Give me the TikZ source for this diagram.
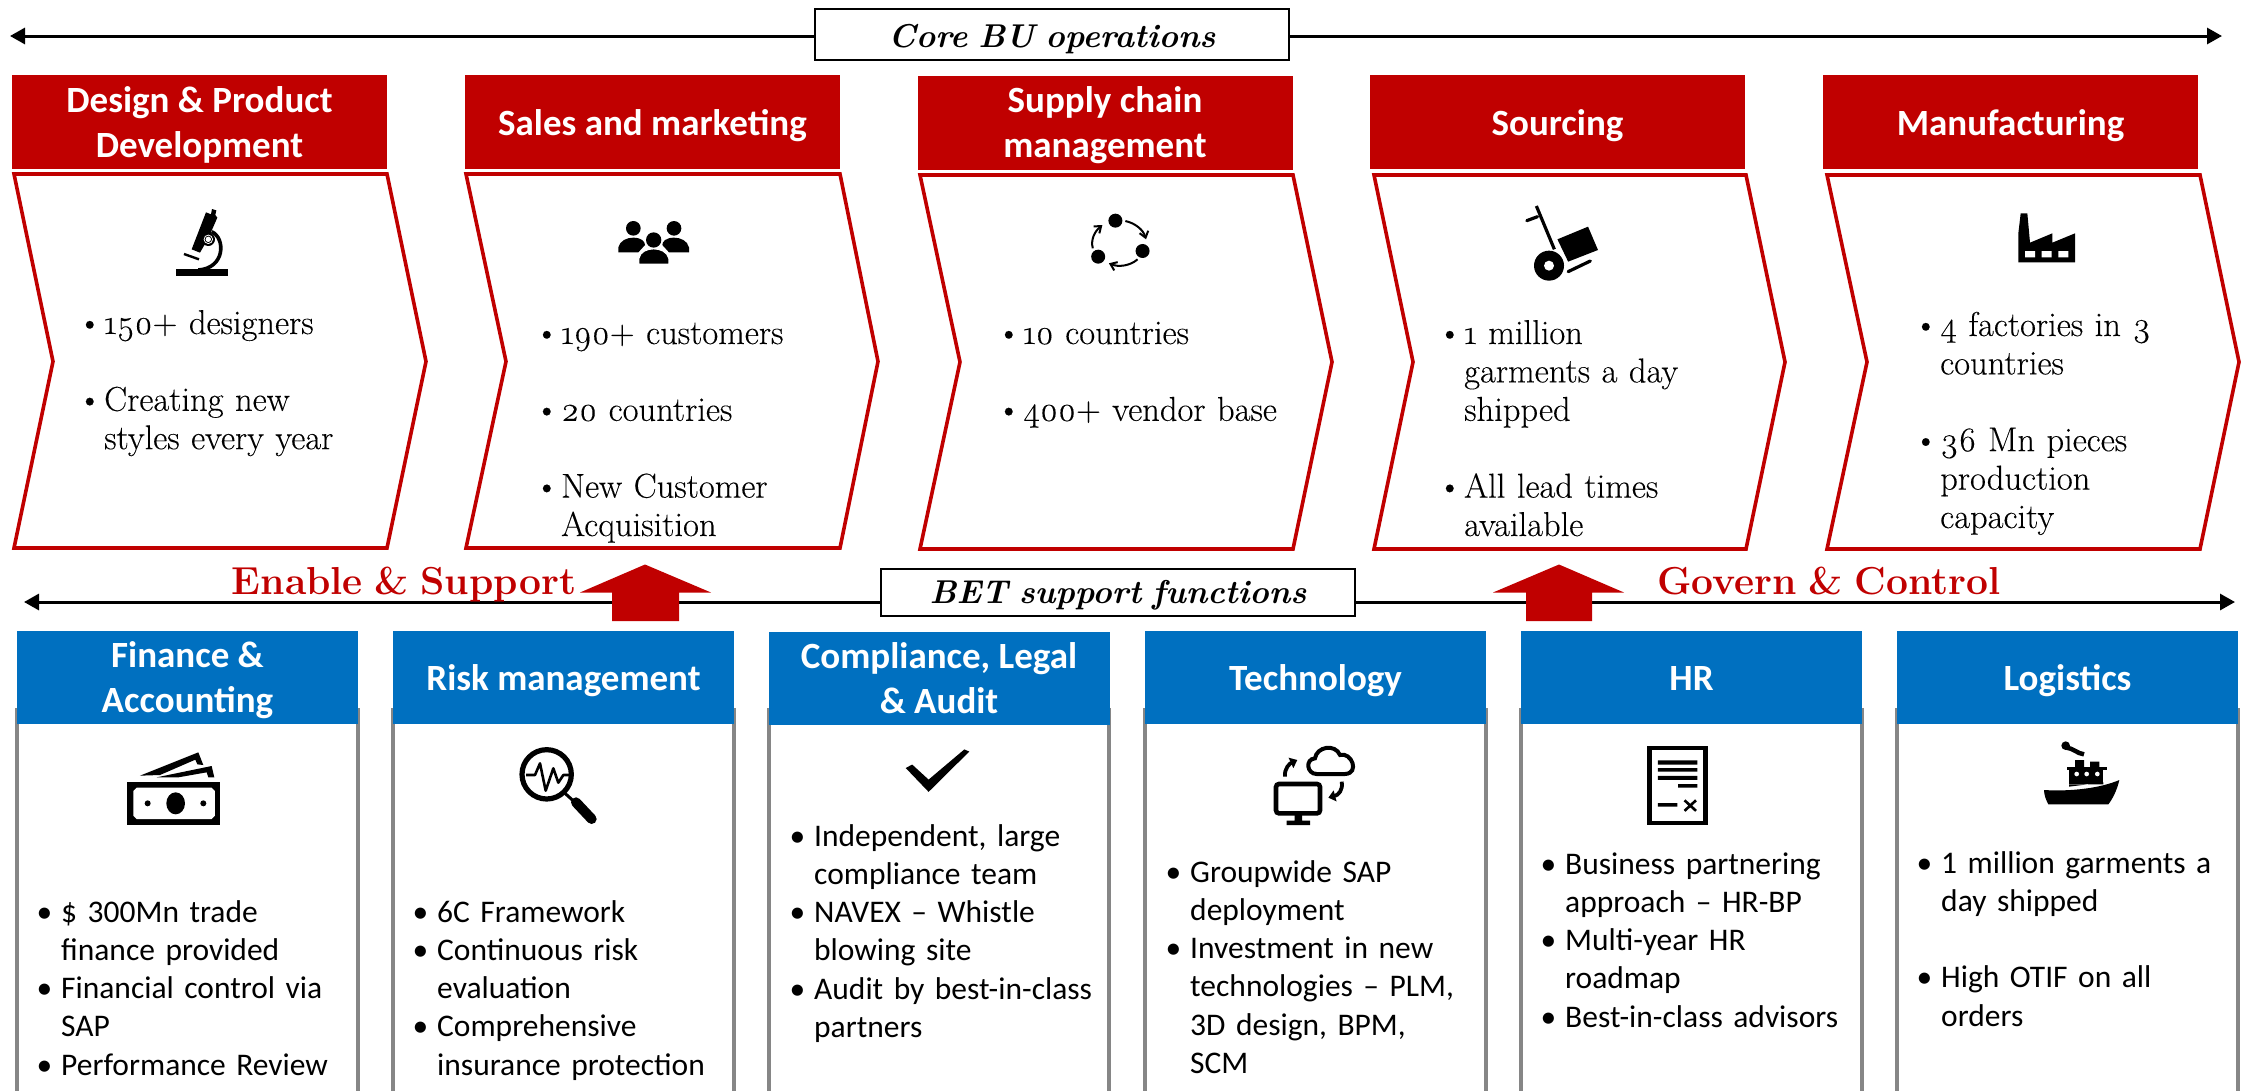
\documentclass[tikz,border=0pt]{standalone}
\usepackage{fontspec}
\setmainfont{Carlito}
\newfontfamily\gfont{Latin Modern Roman}[Numbers=OldStyle,WordSpace=0.8,UprightFeatures={FakeBold=0.2}]
\usetikzlibrary{arrows.meta}
\definecolor{bred}{HTML}{C00000}
\definecolor{bblue}{HTML}{0070C0}
\definecolor{bgrey}{HTML}{868686}
\newcommand\bl[1]{\makebox[0pt][r]{\textbullet\hspace{#1pt}}}
% one line: baseline #1 below the node centre; two lines: first baseline #1 above it
\newcommand\hdone[2]{\raisebox{-#1pt}[0pt][0pt]{#2}}
\newcommand\hdtwo[3]{\raisebox{#1pt}[0pt][0pt]{\begin{tabular}[t]{@{}c@{}}#2\\#3\end{tabular}}}
\tikzset{
  redhead/.style={fill=bred,text=white,minimum width=375pt,minimum height=94pt,inner sep=0pt,
    font=\fontsize{37}{45}\selectfont\bfseries},
  bluehead/.style={fill=bblue,text=white,minimum width=341pt,minimum height=93pt,inner sep=0pt,
    font=\fontsize{37}{45.5}\selectfont\bfseries},
  chev/.style={draw=bred,line width=3.6pt,fill=white,miter limit=10},
  sidebar/.style={draw=bgrey,line width=4pt,fill=white},
  topbody/.style={anchor=base west,inner sep=0pt,align=left,text width=330pt,
    font=\gfont\fontsize{34.5}{38.4}\selectfont},
  lowbody/.style={anchor=base west,inner sep=0pt,align=left,text width=300pt,
    font=\fontsize{31.5}{38.3}\selectfont},
  banner/.style={draw=black,line width=2pt,fill=white,inner sep=0pt,
    font=\gfont\fontsize{33}{38}\selectfont\bfseries\itshape},
  axis/.style={draw=black,line width=3pt,-{Triangle[length=15pt,width=16pt]}},
  slogan/.style={text=bred,inner sep=0pt,anchor=base,font=\gfont\fontsize{39}{44}\selectfont\bfseries},
  blockarrow/.style={fill=bred},
  iconink/.style={fill=black,draw=none}
}
\begin{document}
\begin{tikzpicture}[x=1pt,y=-1pt]
\useasboundingbox (0,0) rectangle (2245,1090);
% top axis
\node[banner,minimum width=474pt,minimum height=51pt] (corebox) at (1052,34.5) {\hdone{13}{Core BU operations}};
\coordinate (coreL) at (10,36);
\coordinate (coreR) at (2222,36);
\draw[axis] (corebox.west |- coreL) -- (coreL);
\draw[axis] (corebox.east |- coreR) -- (coreR);
% chevrons
\draw[chev] (14,174) -- (387,174) -- (426,361.5) -- (387,548) -- (14,548) -- (53,361.5) -- cycle;
\draw[chev] (466,174) -- (840,174) -- (878,361.5) -- (840,548) -- (466,548) -- (506,361.5) -- cycle;
\draw[chev] (920,175) -- (1293,175) -- (1332,362) -- (1293,549) -- (920,549) -- (960,362) -- cycle;
\draw[chev] (1374,175) -- (1746,175) -- (1785,362) -- (1746,549) -- (1374,549) -- (1413,362) -- cycle;
\draw[chev] (1827,175) -- (2200,175) -- (2239,362) -- (2200,549) -- (1827,549) -- (1867,362) -- cycle;
% red heads
\node[redhead] (r1) at (199.5,122) {\hdtwo{10}{Design \& Product}{Development}};
\node[redhead] (r2) at (652.5,122) {\hdone{13.7}{Sales and marketing}};
\node[redhead] (r3) at (1105,122.5) {\hdtwo{10.5}{Supply chain}{management}};
\node[redhead] (r4) at (1557.5,122) {\hdone{13.7}{Sourcing}};
\node[redhead] (r5) at (2010.5,122) {\hdone{13.7}{Manufacturing}};
% top bodies
\node[topbody] (t1) at (104,334) {\bl{2}150+ designers\\[38.4pt]\bl{2}Creating new\\styles every year};
\node[topbody] (t2) at (561,344) {\bl{2}190+ customers\\[38.4pt]\bl{2}20 countries\\[38.4pt]\bl{2}New Customer\\Acquisition};
\node[topbody] (t3) at (1023,344) {\bl{2}10 countries\\[38.4pt]\bl{2}400+ vendor base};
\node[topbody] (t4) at (1464,344) {\bl{2}1 million\\garments a day\\shipped\\[38.4pt]\bl{2}All lead times\\available};
\node[topbody] (t5) at (1940,336) {\bl{2}4 factories in 3\\countries\\[38.4pt]\bl{2}36 Mn pieces\\production\\capacity};
% lower axis
\node[banner,minimum width=474pt,minimum height=47pt] (betbox) at (1118,592.5) {\hdone{10.5}{BET support functions}};
\coordinate (betL) at (24,602);
\coordinate (betR) at (2235,602);
\draw[axis] (betbox.west |- betL) -- (betL);
\draw[axis] (betbox.east |- betR) -- (betR);
\fill[blockarrow] (645,564.5) -- (711,592.5) -- (679,592.5) -- (679,621) -- (612,621) -- (612,592.5) -- (580,592.5) -- cycle;
\fill[blockarrow] (1559,564.5) -- (1624,592.5) -- (1592,592.5) -- (1592,621) -- (1526,621) -- (1526,592.5) -- (1493,592.5) -- cycle;
\node[slogan] (enable) at (404,594) {Enable \& Support};
\node[slogan] (govern) at (1829,594) {Govern \& Control};
% side bars
\foreach \a/\b in {17/358,393/734,769/1109,1145/1486,1521/1862,1897/2238}{
  \draw[sidebar] (\a,1095) -- (\a,708) (\b,708) -- (\b,1095);
}
% blue heads
\node[bluehead] (b1) at (187.5,677.5) {\hdtwo{10.5}{Finance \&}{Accounting}};
\node[bluehead] (b2) at (563.5,677.5) {\hdone{12.5}{Risk management}};
\node[bluehead] (b3) at (939,678.5) {\hdtwo{10.5}{Compliance, Legal}{\& Audit}};
\node[bluehead] (b4) at (1315.5,677.5) {\hdone{12.5}{Technology}};
\node[bluehead] (b5) at (1691.5,677.5) {\hdone{12.5}{HR}};
\node[bluehead] (b6) at (2067.5,677.5) {\hdone{12.5}{Logistics}};
% lower bodies
\node[lowbody] (l1) at (61,922) {\bl{9}\$ 300Mn trade\\finance provided\\\bl{9}Financial control via\\SAP\\\bl{9}Performance Review};
\node[lowbody] (l2) at (437,922) {\bl{9}6C Framework\\\bl{9}Continuous risk\\evaluation\\\bl{9}Comprehensive\\insurance protection};
\node[lowbody] (l3) at (814,846) {\bl{9}Independent, large\\compliance team\\\bl{9}NAVEX -- Whistle\\blowing site\\\bl{9}Audit by best-in-class\\partners};
\node[lowbody] (l4) at (1190,882) {\bl{9}Groupwide SAP\\deployment\\\bl{9}Investment in new\\technologies -- PLM,\\3D design, BPM,\\SCM};
\node[lowbody] (l5) at (1565,874) {\bl{9}Business partnering\\approach -- HR-BP\\\bl{9}Multi-year HR\\roadmap\\\bl{9}Best-in-class advisors};
\node[lowbody] (l6) at (1941,873) {\bl{9}1 million garments a\\day shipped\\[38.3pt]\bl{9}High OTIF on all\\orders};
% --- icons ---
% microscope
\begin{scope}[shift={(100,170)},x=0.3333pt,y=-0.3333pt]
  \fill[iconink] (228,298) rectangle (383,318);
  \fill[iconink] (318,127) -- (333,133) -- (336,117) -- (349,121) -- (346,135) -- (352,143) -- (325,205) -- (300,248) -- (275,238) -- cycle;
  \draw[line width=3.6pt] (335,185) .. controls (378,205) and (375,295) .. (295,300);
  \fill[iconink] (325,208) circle (20);
  \fill[white] (325,208) circle (14);
  \fill[iconink] (325,208) circle (11);
  \fill[white] (325,208) circle (8);
  \draw[line width=2.4pt] (252,252) -- (297,268);
\end{scope}
% people
\begin{scope}[shift={(600,200)},x=0.3333pt,y=-0.3333pt]
  \fill[iconink] (100,85) circle (22) (222,85) circle (22);
  \fill[iconink] (55,157) -- (55,142) .. controls (60,122) and (80,113) .. (100,113) .. controls (125,113) and (135,125) .. (135,135) -- (115,157) -- cycle;
  \fill[iconink] (267,157) -- (267,142) .. controls (262,122) and (242,113) .. (222,113) .. controls (197,113) and (187,125) .. (187,135) -- (207,157) -- cycle;
  \draw[white,line width=1.5pt,fill=black] (116,193) -- (116,175) .. controls (120,155) and (140,146) .. (161,146) .. controls (182,146) and (202,155) .. (207,175) -- (207,193) -- cycle;
  \fill[iconink] (161,120) circle (23);
\end{scope}
% cycle
\begin{scope}[shift={(1040,180)},x=0.3827pt,y=-0.3333pt]
  \fill[iconink] (197,122) circle [radius=7pt] (268,213) circle [radius=7pt] (152,230) circle [radius=7pt];
  \draw[line width=2pt,-{Straight Barb[length=6pt,width=9pt,line width=2pt]}] (223,123) .. controls (250,130) and (270,150) .. (277,178);
  \draw[line width=2pt,-{Straight Barb[length=6pt,width=9pt,line width=2pt]}] (255,238) .. controls (235,258) and (205,262) .. (180,250);
  \draw[line width=2pt,-{Straight Barb[length=6pt,width=9pt,line width=2pt]}] (138,205) .. controls (132,180) and (142,155) .. (163,135);
\end{scope}
% hand truck
\begin{scope}[shift={(1040,180)},x=0.3827pt,y=-0.3333pt]
  \draw[line width=3.2pt] (1297,78) -- (1344,208);
  \draw[line width=3.2pt,line cap=round] (1272,122) -- (1300,110);
  \fill[iconink] (1352,178) -- (1432,140) -- (1458,210) -- (1380,245) -- cycle;
  \fill[iconink] (1330,257) circle [radius=15pt];
  \fill[white] (1330,257) circle [radius=5pt];
  \draw[line width=3.2pt,line cap=round] (1380,275) -- (1438,243);
\end{scope}
% factory
\begin{scope}[shift={(2000,200)},x=0.3333pt,y=-0.3333pt]
  \fill[iconink] (55,187) -- (55,100) -- (62,40) -- (82,40) -- (90,128) -- (157,100) -- (157,128) -- (225,100) -- (225,187) -- cycle;
  \fill[white] (75,153) rectangle (105,172) (125,153) rectangle (155,172) (175,153) rectangle (205,172);
\end{scope}
% money
\begin{scope}[shift={(110,745)},x=0.3333pt,y=-0.3333pt]
  \fill[iconink] (50,110) rectangle (330,240);
  \fill[white] (80,128) -- (305,128) -- (315,138) -- (315,212) -- (305,222) -- (80,222) -- (70,212) -- (70,138) -- cycle;
  \fill[iconink] (197,175) ellipse [x radius=28,y radius=33];
  \fill[iconink] (113,175) circle (9) (280,175) circle (9);
  \fill[iconink] (90,92) -- (265,22) -- (280,60) -- (262,58) -- (256,44) -- (150,90) -- cycle;
  \fill[iconink] (140,97) -- (305,63) -- (313,97) -- (295,97) -- (290,82) -- (205,97) -- cycle;
\end{scope}
% magnifier
\begin{scope}[shift={(500,740)},x=0.3333pt,y=-0.3333pt]
  \draw[line width=5.2pt] (140,103) circle (74);
  \draw[line width=2.6pt,line join=round] (78,105) -- (105,105) -- (120,70) -- (137,152) -- (160,85) -- (175,128) -- (190,105) -- (208,105);
  \draw[line width=3pt] (195,160) -- (225,187);
  \draw[line width=10pt,line cap=round] (228,187) -- (275,237);
\end{scope}
% check
\begin{scope}[shift={(0,540)},x=0.7143pt,y=-0.3508pt]
  \fill[iconink] (1268,650) -- (1277,640) -- (1300,683) -- (1350,597) -- (1357,603) -- (1300,718) -- cycle;
\end{scope}
% cloud and monitor
\begin{scope}[shift={(1260,735)},x=0.3333pt,y=-0.3333pt]
  \draw[line width=4.6pt,rounded corners=3pt] (48,147) rectangle (180,235);
  \fill[iconink] (104,238) rectangle (126,258) (80,257) rectangle (150,270);
  \draw[line width=4pt] (170,117) .. controls (140,117) and (135,72) .. (165,70) .. controls (170,35) and (225,25) .. (240,60) .. controls (275,50) and (300,115) .. (255,117) -- cycle;
  \draw[line width=3.8pt,-{Triangle[length=7pt,width=11pt]}] (75,125) .. controls (72,100) and (90,85) .. (112,75);
  \draw[line width=3.8pt,-{Triangle[length=7pt,width=11pt]}] (245,140) .. controls (250,165) and (235,180) .. (205,188);
\end{scope}
% document
\begin{scope}[shift={(1120,540)},x=0.7173pt,y=-0.3508pt]
  \draw[line width=4.6pt] (738,593) rectangle (816,807);
  \fill[iconink] (750,628) rectangle (805,640) (750,650) rectangle (805,660) (750,672) rectangle (805,684) (778,696) rectangle (805,706) (750,750) rectangle (777,760);
  \draw[line width=2.6pt] (787,742) -- (803,772) (803,742) -- (787,772);
\end{scope}
% ship
\begin{scope}[shift={(2020,735)},x=0.3333pt,y=-0.3333pt]
  \fill[iconink] (72,165) .. controls (150,170) and (240,160) .. (298,135) .. controls (290,170) and (275,195) .. (265,208) -- (85,208) .. controls (78,195) and (72,180) .. cycle;
  \fill[iconink] (147,105) rectangle (250,148);
  \fill[iconink] (140,97) rectangle (260,105);
  \fill[iconink] (147,148) -- (250,148) -- (250,142) -- (147,155) -- cycle;
  \fill[iconink] (165,75) rectangle (192,97) (210,80) rectangle (238,97);
  \fill[white] (170,117) circle (7) (200,117) circle (7) (232,117) circle (7);
  \fill[iconink] (137,32) circle (13);
  \draw[line width=4.5pt] (140,38) .. controls (160,40) and (170,55) .. (192,58);
\end{scope}
\end{tikzpicture}
\end{document}
